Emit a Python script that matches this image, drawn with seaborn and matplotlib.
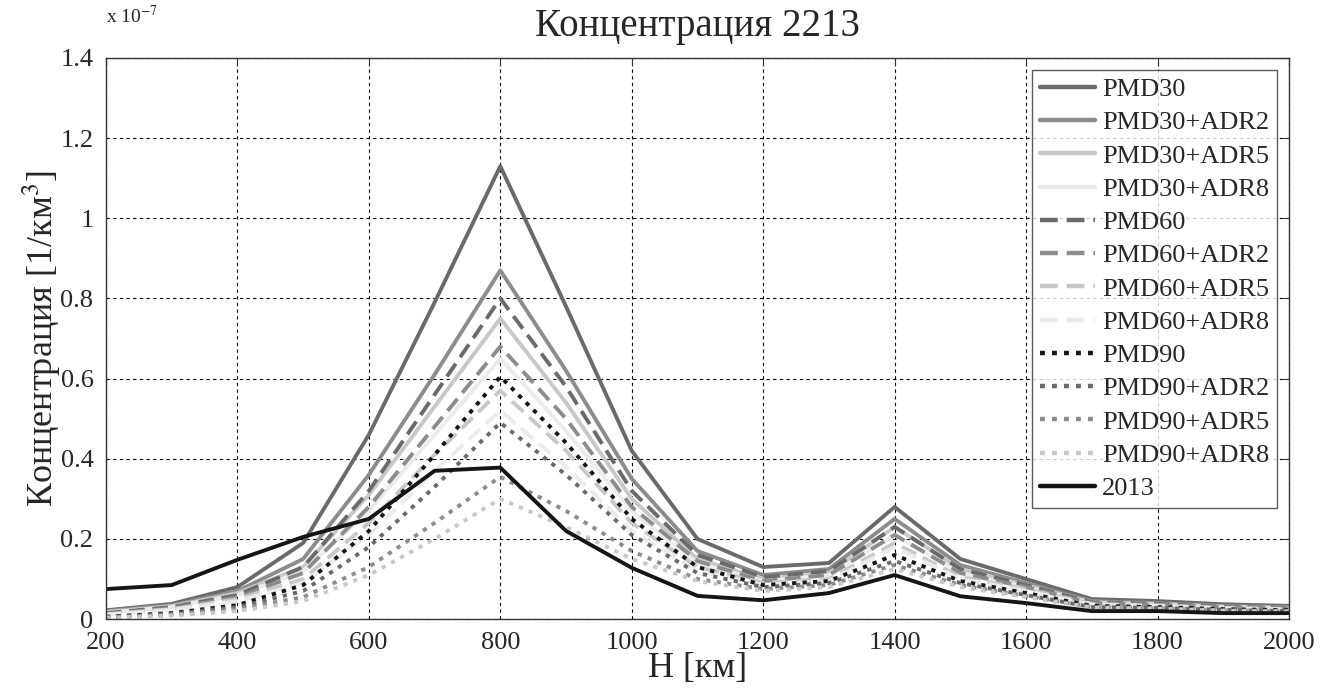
import matplotlib
matplotlib.use('Agg')
import matplotlib.pyplot as plt
from matplotlib.ticker import FuncFormatter
import pandas as pd
import seaborn as sns

# altitude grid [km]
H = list(range(200, 2001, 100))

# concentration, in units of 1e-7 1/km^3
pmd30 = [0.022, 0.038, 0.08, 0.19, 0.46, 0.79, 1.13, 0.78, 0.42, 0.20, 0.13, 0.14, 0.28, 0.15, 0.10, 0.05, 0.045, 0.037, 0.033]
pmd30_adr2 = [0.02, 0.035, 0.07, 0.15, 0.36, 0.61, 0.87, 0.62, 0.35, 0.17, 0.11, 0.125, 0.25, 0.135, 0.09, 0.045, 0.04, 0.033, 0.03]
pmd30_adr5 = [0.018, 0.032, 0.065, 0.13, 0.31, 0.53, 0.75, 0.54, 0.30, 0.15, 0.10, 0.115, 0.23, 0.125, 0.085, 0.042, 0.038, 0.031, 0.028]
pmd30_adr8 = [0.016, 0.03, 0.06, 0.12, 0.27, 0.46, 0.65, 0.47, 0.27, 0.14, 0.095, 0.11, 0.21, 0.115, 0.08, 0.04, 0.036, 0.03, 0.027]
pmd60 = [0.015, 0.03, 0.06, 0.13, 0.32, 0.56, 0.80, 0.58, 0.32, 0.16, 0.105, 0.12, 0.23, 0.125, 0.085, 0.042, 0.038, 0.031, 0.028]
pmd60_adr2 = [0.013, 0.027, 0.055, 0.115, 0.28, 0.48, 0.68, 0.50, 0.28, 0.145, 0.095, 0.11, 0.21, 0.115, 0.08, 0.04, 0.036, 0.03, 0.027]
pmd60_adr5 = [0.012, 0.025, 0.05, 0.10, 0.24, 0.41, 0.57, 0.42, 0.24, 0.13, 0.09, 0.10, 0.19, 0.105, 0.075, 0.038, 0.034, 0.028, 0.025]
pmd60_adr8 = [0.011, 0.023, 0.045, 0.09, 0.21, 0.37, 0.52, 0.38, 0.22, 0.12, 0.085, 0.095, 0.18, 0.10, 0.07, 0.036, 0.033, 0.027, 0.024]
pmd90 = [0.006, 0.015, 0.035, 0.085, 0.22, 0.41, 0.605, 0.44, 0.25, 0.13, 0.085, 0.095, 0.16, 0.095, 0.065, 0.033, 0.03, 0.025, 0.022]
pmd90_adr2 = [0.005, 0.013, 0.03, 0.07, 0.18, 0.33, 0.49, 0.36, 0.21, 0.115, 0.08, 0.09, 0.145, 0.09, 0.06, 0.03, 0.028, 0.023, 0.02]
pmd90_adr5 = [0.004, 0.01, 0.025, 0.055, 0.13, 0.24, 0.355, 0.27, 0.17, 0.10, 0.075, 0.085, 0.135, 0.085, 0.058, 0.03, 0.027, 0.022, 0.02]
pmd90_adr8 = [0.003, 0.009, 0.02, 0.045, 0.11, 0.20, 0.30, 0.23, 0.15, 0.095, 0.07, 0.08, 0.125, 0.08, 0.055, 0.029, 0.026, 0.021, 0.019]
obs2013 = [0.075, 0.085, 0.148, 0.205, 0.25, 0.37, 0.378, 0.22, 0.128, 0.058, 0.047, 0.065, 0.11, 0.057, 0.04, 0.02, 0.02, 0.015, 0.015]

names = ['PMD30', 'PMD30+ADR2', 'PMD30+ADR5', 'PMD30+ADR8',
         'PMD60', 'PMD60+ADR2', 'PMD60+ADR5', 'PMD60+ADR8',
         'PMD90', 'PMD90+ADR2', 'PMD90+ADR5', 'PMD90+ADR8', '2013']
series = [pmd30, pmd30_adr2, pmd30_adr5, pmd30_adr8,
          pmd60, pmd60_adr2, pmd60_adr5, pmd60_adr8,
          pmd90, pmd90_adr2, pmd90_adr5, pmd90_adr8, obs2013]

colors = ['#6a6a6a', '#8c8c8c', '#c8c8c8', '#ebebeb',
          '#6a6a6a', '#8c8c8c', '#c8c8c8', '#ebebeb',
          '#151515', '#6a6a6a', '#8c8c8c', '#c8c8c8', '#151515']
solid, dash, dot = '', (4, 2), (1.1, 1.6)
styles = [solid] * 4 + [dash] * 4 + [dot] * 4 + [solid]

rows = []
for n, vals in zip(names, series):
    for h, v in zip(H, vals):
        rows.append((n, h, v * 1e-7))
df = pd.DataFrame(rows, columns=['name', 'H', 'conc'])

sns.set_style('white')
plt.rcParams['font.family'] = ['Liberation Serif', 'DejaVu Serif']
plt.rcParams['mathtext.fontset'] = 'stix'

fig = plt.figure(figsize=(13.28, 6.98), dpi=100)
ax = fig.add_axes([0.0798, 0.113, 0.8908, 0.804])

sns.lineplot(data=df, x='H', y='conc', hue='name', style='name',
             hue_order=names, style_order=names,
             palette=dict(zip(names, colors)), dashes=dict(zip(names, styles)),
             linewidth=2.8, ax=ax, sort=False)

ax.set_xlim(200, 2000)
ax.set_ylim(0, 1.4e-7)
ax.set_xticks(range(200, 2001, 200))
ax.set_yticks([i * 0.2e-7 for i in range(8)])
ax.yaxis.set_major_formatter(FuncFormatter(lambda v, p: '%g' % round(v * 1e7, 3)))
ax.grid(True, color='black', linestyle=(0, (3, 3)), linewidth=0.8)
ax.tick_params(direction='in', top=True, right=True, labelsize=19, length=6, color='#333333')
ax.tick_params(axis='x', pad=9)
ax.tick_params(axis='y', pad=9)
for s in ax.spines.values():
    s.set_color('#333333')
    s.set_linewidth(1.0)

ax.set_title('Концентрация 2213', fontsize=28, pad=16)
ax.set_xlabel('H [км]', fontsize=26, labelpad=-1)
ax.set_ylabel('Концентрация [1/км$^3$]', fontsize=26, labelpad=-2)
ax.text(0.0, 1.055, 'x 10$^{-7}$', transform=ax.transAxes, fontsize=14, va='bottom', ha='left')

leg = ax.legend(loc='upper right', fontsize=19, frameon=True, fancybox=False,
                edgecolor='#333333', handlelength=2.1, labelspacing=0.37,
                borderaxespad=0.45, handletextpad=0.25, borderpad=0.3)
leg.get_frame().set_linewidth(1.0)
for line in leg.get_lines():
    line.set_linewidth(3.2)

fig.savefig('out.png', dpi=100)
